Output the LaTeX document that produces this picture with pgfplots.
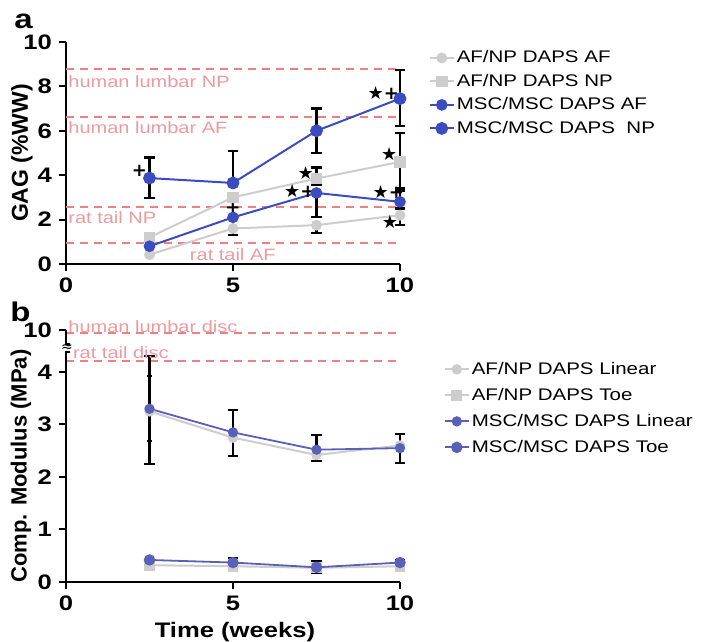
\documentclass[border=0pt]{standalone}
\usepackage{fontspec}
\setmainfont{Liberation Sans}[FakeStretch=1.22]
\newfontfamily\plainsans{Liberation Sans}
\newfontfamily\symfont{DejaVu Sans}
\usepackage{pgfplots}
\pgfplotsset{compat=1.18}
\definecolor{msc}{HTML}{3B4CC0}
\definecolor{mscb}{HTML}{5A5FB8}
\definecolor{afnp}{HTML}{CDCDCD}
\definecolor{refline}{HTML}{F07F7F}
\definecolor{reftext}{HTML}{EC9A9E}
\newcommand{\st}{{\symfont ★}}
\newcommand{\pl}{{\symfont\bfseries +}}

\tikzset{
  reflab/.style={reftext, font=\fontsize{8.2}{9}\selectfont, anchor=west, inner sep=0pt},
  ann/.style={black, font=\fontsize{9}{9}\selectfont, inner sep=0pt},
}
\pgfplotsset{
  panel/.style={
    scale only axis, width=167pt,
    axis lines*=left, clip=false,
    axis line style={black, line width=1pt},
    tick style={black, line width=1pt},
    major tick length=3.5pt, tick align=outside,
    xmin=0, xmax=10, xtick={0,5,10},
    /pgf/number format/assume math mode=true,
    ticklabel style={font=\bfseries\fontsize{10.5}{12}\selectfont},
    legend cell align=left,
    legend image code/.code={\draw[mark repeat=2,mark phase=2,##1] plot coordinates {(0pt,0pt)(6pt,0pt)(12pt,0pt)};},
  },
  refl/.style={forget plot, refline, line width=1pt, dash pattern=on 4pt off 3pt, mark=none},
  errbase/.style={forget plot, only marks, mark=*, mark size=0pt,
    error bars/error bar style={black, line width=1.1pt},
    error bars/error mark=-,
    error bars/error mark options={rotate=90, black, line width=1.1pt, mark size=2.6pt}},
  errup/.style={errbase, error bars/.cd, y dir=plus, y explicit},
  errdn/.style={errbase, error bars/.cd, y dir=minus, y explicit},
}

\begin{document}
\begin{tikzpicture}
\useasboundingbox (0,0) rectangle (351.5pt,321pt);
\node[anchor=base west, inner sep=0pt, font=\bfseries\fontsize{13.5}{14}\selectfont] at (7pt,306.5pt) {a};
\node[anchor=base west, inner sep=0pt, font=\bfseries\fontsize{13.5}{14}\selectfont] at (5pt,160pt) {b};

% ---------------- panel a
\begin{axis}[panel, at={(33pt,189pt)}, anchor=south west, height=111pt,
  ymin=0, ymax=10, ytick={0,2,4,6,8,10},
  ylabel={\plainsans\bfseries GAG (\%WW)},
  every axis y label/.style={at={(axis description cs:-0.132,0.5)}, rotate=90, anchor=center, font=\fontsize{11.5}{12}\selectfont},
  legend style={draw=none, fill=none, at={(1.085,0.975)}, anchor=north west,
    font=\fontsize{8.4}{10}\selectfont, inner sep=0pt, row sep=1.75pt,
    nodes={text height=6.5pt, text depth=1.5pt, inner sep=1pt}},
]
\addplot[refl] coordinates {(0,8.8) (10,8.8)};
\addplot[refl] coordinates {(0,6.6) (10,6.6)};
\addplot[refl] coordinates {(0,2.55) (10,2.55)};
\addplot[refl] coordinates {(0,0.95) (10,0.95)};

% error bars
\addplot[errdn] coordinates {(5,1.6) -= (0,0.3) (7.5,1.75) -= (0,0.35) (10,2.2) -= (0,0.45)};
\addplot[errup] coordinates {(7.5,3.85) += (0,0.5) (10,4.6) += (0,1.3)};
\addplot[errdn] coordinates {(7.5,3.85) -= (0,0.3) (10,4.6) -= (0,1.3)};
\addplot[errdn] coordinates {(7.5,3.2) -= (0,1.1) (10,2.8) -= (0,0.3)};
\addplot[errup] coordinates {(10,2.8) += (0,0.6)};
\addplot[errup] coordinates {(2.5,3.87) += (0,0.93) (5,3.65) += (0,1.45) (7.5,6.0) += (0,1.0) (10,7.45) += (0,1.3)};
\addplot[errdn] coordinates {(2.5,3.87) -= (0,0.9) (7.5,6.0) -= (0,1.0) (10,7.45) -= (0,1.25)};

% series
\addplot[afnp, line width=1pt, mark=*, mark size=2.2pt, mark options={fill=afnp}]
  coordinates {(2.5,0.42) (5,1.6) (7.5,1.75) (10,2.2)};
\addplot[afnp, line width=1pt, mark=square*, mark size=2.4pt, mark options={fill=afnp}]
  coordinates {(2.5,1.2) (5,3.0) (7.5,3.85) (10,4.6)};
\addplot[msc, line width=1pt, mark=*, mark size=2.4pt, mark options={fill=msc}]
  coordinates {(2.5,0.8) (5,2.1) (7.5,3.2) (10,2.8)};
\addplot[msc, line width=1pt, mark=*, mark size=2.7pt, mark options={fill=msc}]
  coordinates {(2.5,3.87) (5,3.65) (7.5,6.0) (10,7.45)};
\legend{AF/NP DAPS AF, AF/NP DAPS NP, MSC/MSC DAPS AF, MSC/MSC DAPS\ \ NP}

\node[reflab] at (axis cs:0.06,8.2) {human lumbar NP};
\node[reflab] at (axis cs:0.06,6.15) {human lumbar AF};
\node[reflab] at (axis cs:0.06,2.1) {rat tail NP};
\node[reflab] at (axis cs:3.7,0.4) {rat tail AF};

\node[ann] at (axis cs:2.2,4.2) {\pl};
\node[ann] at (axis cs:5,2.55) {\pl};
\node[ann] at (axis cs:7.18,4.1) {\st};
\node[ann] at (axis cs:7.0,3.28) {\st\pl};
\node[ann] at (axis cs:9.5,7.7) {\st\pl};
\node[ann] at (axis cs:9.68,4.95) {\st};
\node[ann] at (axis cs:9.65,3.25) {\st\pl};
\node[ann] at (axis cs:9.7,1.9) {\st};
\end{axis}

% ---------------- panel b
\begin{axis}[panel, at={(33pt,30pt)}, anchor=south west, height=126pt,
  y axis line style={draw=none},
  ymin=0, ymax=4.8, ytick={0,1,2,3,4,4.8}, yticklabels={0,1,2,3,4,10},
  ylabel={\plainsans\bfseries Comp. Modulus (MPa)},
  every axis y label/.style={at={(axis description cs:-0.135,0.46)}, rotate=90, anchor=center, font=\fontsize{11}{12}\selectfont},
  xlabel={Time (weeks)},
  every axis x label/.style={at={(axis cs:5.06,0)}, yshift=-25pt, anchor=center, font=\bfseries\fontsize{10.5}{12}\selectfont},
  legend style={draw=none, fill=none, at={(1.13,0.885)}, anchor=north west,
    font=\fontsize{8.4}{10}\selectfont, inner sep=0pt, row sep=3pt,
    nodes={text height=6.5pt, text depth=1.5pt, inner sep=1pt}},
]
\addplot[refl] coordinates {(0,4.74) (10,4.74)};
\addplot[refl] coordinates {(0,4.2) (10,4.2)};

% error bars
\addplot[errup] coordinates {(2.5,3.3) += (0,1.0) (5,2.85) += (0,0.43) (7.5,2.52) += (0,0.28) (10,2.6) += (0,0.22)};
\addplot[errdn] coordinates {(2.5,3.25) -= (0,1.0) (5,2.75) -= (0,0.35) (7.5,2.42) -= (0,0.12) (10,2.55) -= (0,0.28)};
\addplot[errbase, error bars/error mark options={rotate=90, black, line width=1.1pt, mark size=1.4pt},
  error bars/.cd, y dir=both, y explicit]
  coordinates {(2.5,3.3) +- (0,0.62)};
\addplot[errup] coordinates {(5,0.37) += (0,0.09) (7.5,0.27) += (0,0.12) (10,0.37) += (0,0.04)};
\addplot[errdn] coordinates {(7.5,0.27) -= (0,0.1) (10,0.3) -= (0,0.08)};

% series
\addplot[afnp, line width=1pt, mark=*, mark size=2.1pt, mark options={fill=afnp}]
  coordinates {(2.5,3.25) (5,2.75) (7.5,2.42) (10,2.6)};
\addplot[afnp, line width=1pt, mark=square*, mark size=2.2pt, mark options={fill=afnp}]
  coordinates {(2.5,0.32) (5,0.3) (7.5,0.27) (10,0.3)};
\addplot[mscb, line width=0.9pt, mark=*, mark size=2.1pt, mark options={fill=mscb}]
  coordinates {(2.5,3.3) (5,2.85) (7.5,2.52) (10,2.55)};
\addplot[mscb, line width=0.9pt, mark=*, mark size=2.4pt, mark options={fill=mscb}]
  coordinates {(2.5,0.42) (5,0.37) (7.5,0.28) (10,0.37)};
\legend{AF/NP DAPS Linear, AF/NP DAPS Toe, MSC/MSC DAPS Linear, MSC/MSC DAPS Toe}

\node[reflab, anchor=base west] at (axis cs:0.06,4.76) {human lumbar disc};
\node[reflab, anchor=base west] at (axis cs:0.2,4.26) {rat tail disc};

% broken y axis
\draw[line width=1pt] (axis cs:0,0) -- (axis cs:0,4.38) -- ++(1.8pt,0);
\draw[line width=1pt] (axis cs:0,4.8) -- (axis cs:0,4.53) -- ++(1.8pt,0);
\node[inner sep=0pt, font=\symfont\fontsize{7}{7}\selectfont] at ([xshift=0.5pt]axis cs:0,4.455) {≈};
\end{axis}
\end{tikzpicture}
\end{document}
